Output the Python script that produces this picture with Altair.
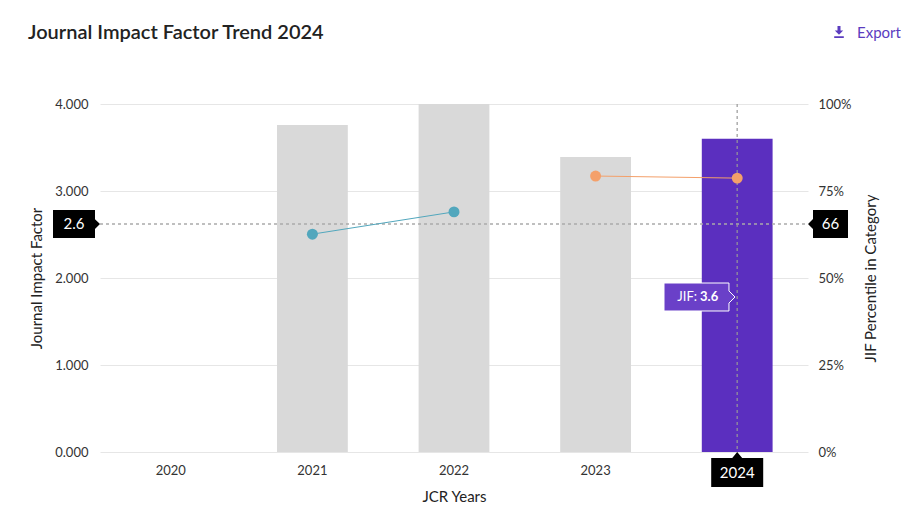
import altair as alt
import pandas as pd

years = ["2020", "2021", "2022", "2023", "2024"]
jif_values = [None, 3.76, 4.0, 3.39, 3.6]
bar_colors = ["#d9d9d9", "#d9d9d9", "#d9d9d9", "#d9d9d9", "#5b2fbf"]

pct_years = ["2021", "2022", "2023", "2024"]
pct_values = [62.6, 69.0, 79.3, 78.7]
pct_series = ["A", "A", "B", "B"]

selected_year = "2024"
cross_jif = 2.62
cross_jif_label = "2.6"
cross_pct_label = "66"
tooltip_label = "JIF:"
tooltip_value = "3.6"

FONT = "Lato"
W, H = 708, 348

bars_df = pd.DataFrame({"year": years, "jif": jif_values, "color": bar_colors})
pct_df = pd.DataFrame({"year": pct_years, "pct": pct_values, "series": pct_series})
sel_df = pd.DataFrame({"year": [selected_year]})
one = pd.DataFrame({"k": [0]})

xenc = alt.X("year:N", sort=years, title="JCR Years",
             scale=alt.Scale(domain=years, paddingInner=0.5, paddingOuter=0.25),
             axis=alt.Axis(labelAngle=0, ticks=False, domain=False, labelPadding=12,
                           labelExpr=f"datum.value == '{selected_year}' ? '' : datum.value",
                           titlePadding=12, labelFontSize=13, titleFontSize=15,
                           labelColor="#333", titleColor="#222", titleFontWeight="normal",
                           labelFont=FONT, titleFont=FONT))

yscale_left = alt.Scale(domain=[0, 4])

bars = alt.Chart(bars_df).mark_bar(clip=True).encode(
    x=xenc,
    y=alt.Y("jif:Q", scale=yscale_left, title="Journal Impact Factor",
            axis=alt.Axis(values=[0, 1, 2, 3, 4], format=".3f", ticks=False, domain=False,
                          gridColor="#e6e6e6", labelPadding=12, titlePadding=10,
                          labelFontSize=13, titleFontSize=15, labelColor="#333",
                          titleColor="#222", titleFontWeight="normal",
                          labelFont=FONT, titleFont=FONT)),
    color=alt.Color("color:N", scale=None),
)

hrule = alt.Chart(one).mark_rule(color="#aaaaaa", strokeDash=[3, 3], strokeWidth=1.5).encode(
    y=alt.datum(cross_jif, scale=yscale_left),
    x=alt.value(0), x2=alt.value(W),
)

vrule = alt.Chart(sel_df).mark_rule(color="#999999", strokeDash=[3, 3], strokeWidth=1.5, opacity=0.8).encode(
    x=alt.X("year:N", sort=years),
    y=alt.value(0), y2=alt.value(H),
)

left_shape = "M-1,-0.596 L0.787,-0.596 L0.787,-0.21 L1,0 L0.787,0.21 L0.787,0.596 L-1,0.596 Z"
left_box = alt.Chart(one).mark_point(shape=left_shape, filled=True, fill="black", opacity=1,
                                     size=47 * 47, strokeWidth=0).encode(
    x=alt.value(-23.5), y=alt.datum(cross_jif, scale=yscale_left))
left_text = alt.Chart(one).mark_text(text=cross_jif_label, color="white", fontSize=15,
                                     font=FONT, align="center", baseline="middle").encode(
    x=alt.value(-26), y=alt.datum(cross_jif, scale=yscale_left))

right_shape = "M-1,0 L-0.75,-0.25 L-0.75,-0.7 L1,-0.7 L1,0.7 L-0.75,0.7 L-0.75,0.25 Z"
right_box = alt.Chart(one).mark_point(shape=right_shape, filled=True, fill="black", opacity=1,
                                      size=40 * 40, strokeWidth=0).encode(
    x=alt.value(728), y=alt.datum(cross_jif, scale=yscale_left))
right_text = alt.Chart(one).mark_text(text=cross_pct_label, color="white", fontSize=15,
                                      font=FONT, align="center", baseline="middle").encode(
    x=alt.value(730.5), y=alt.datum(cross_jif, scale=yscale_left))

bottom_shape = "M-1,-0.442 L-0.19,-0.442 L0,-0.673 L0.19,-0.442 L1,-0.442 L1,0.673 L-1,0.673 Z"
bottom_box = alt.Chart(sel_df).mark_point(shape=bottom_shape, filled=True, fill="black", opacity=1,
                                          size=52 * 52, strokeWidth=0).encode(
    x=alt.X("year:N", sort=years), y=alt.value(H + 17.5))
bottom_text = alt.Chart(sel_df).mark_text(color="white", fontSize=15, font=FONT,
                                          align="center", baseline="middle").encode(
    x=alt.X("year:N", sort=years), y=alt.value(H + 20.5), text="year:N")

tip_shape = "M-1,-0.394 L0.83,-0.394 L0.83,-0.17 L1,0 L0.83,0.17 L0.83,0.394 L-1,0.394 Z"
tip_box = alt.Chart(one).mark_point(shape=tip_shape, filled=True, fill="#6a40c8", opacity=1,
                                    stroke="white", strokeWidth=1, size=71 * 71).encode(
    x=alt.value(599.5), y=alt.value(193))
tip_t1 = alt.Chart(one).mark_text(text=tooltip_label, color="white", fontSize=13, font=FONT,
                                  align="right", baseline="middle").encode(
    x=alt.value(597), y=alt.value(193))
tip_t2 = alt.Chart(one).mark_text(text=tooltip_value, color="white", fontSize=13, font=FONT,
                                  fontWeight="bold", align="left", baseline="middle").encode(
    x=alt.value(600), y=alt.value(193))

title = alt.Chart(one).mark_text(text="Journal Impact Factor Trend 2024", color="#222",
                                 fontSize=20, fontWeight=600, font=FONT,
                                 align="left", baseline="middle").encode(
    x=alt.value(-72), y=alt.value(-71))
export_text = alt.Chart(one).mark_text(text="Export", color="#5b3cbf", fontSize=15, font=FONT,
                                       align="left", baseline="middle").encode(
    x=alt.value(757), y=alt.value(-71))
icon_shape = ("M-0.25,-1 L0.25,-1 L0.25,-0.25 L0.7,-0.25 L0,0.45 L-0.7,-0.25 L-0.25,-0.25 Z "
              "M-0.8,0.72 L0.8,0.72 L0.8,1 L-0.8,1 Z")
export_icon = alt.Chart(one).mark_point(shape=icon_shape, filled=True, fill="#5b3cbf", opacity=1,
                                        strokeWidth=0, size=12 * 12).encode(
    x=alt.value(739), y=alt.value(-72))

yright = alt.Y("pct:Q", scale=alt.Scale(domain=[0, 100]), title="JIF Percentile in Category",
               axis=alt.Axis(orient="right", values=[0, 25, 50, 75, 100],
                             labelExpr="datum.value + '%'", ticks=False, domain=False, grid=False,
                             labelPadding=10, titlePadding=12, titleAngle=270,
                             titleBaseline="top",
                             labelFontSize=13, titleFontSize=15,
                             labelColor="#333", titleColor="#222", titleFontWeight="normal",
                             labelFont=FONT, titleFont=FONT))
series_color = alt.Color("series:N", scale=alt.Scale(domain=["A", "B"], range=["#52a7bd", "#f4a06a"]),
                         legend=None)
lines = alt.Chart(pct_df).mark_line(strokeWidth=1).encode(
    x=alt.X("year:N", sort=years), y=yright, color=series_color, detail="series:N")
points = alt.Chart(pct_df).mark_circle(size=120, opacity=1).encode(
    x=alt.X("year:N", sort=years), y=yright, color=series_color)

left_group = alt.layer(bars, hrule, vrule, left_box, left_text, right_box, right_text,
                       bottom_box, bottom_text, title, export_text, export_icon)
right_group = alt.layer(lines, points, tip_box, tip_t1, tip_t2)

chart = alt.layer(left_group, right_group).resolve_scale(y="independent", color="independent").properties(
    width=W, height=H,
    autosize=alt.AutoSizeParams(type="none"),
    padding={"left": 92, "top": 96, "right": 93, "bottom": 55},
).configure_view(stroke=None)

chart.save("out.html", embed_options={"renderer": "svg", "actions": False})
